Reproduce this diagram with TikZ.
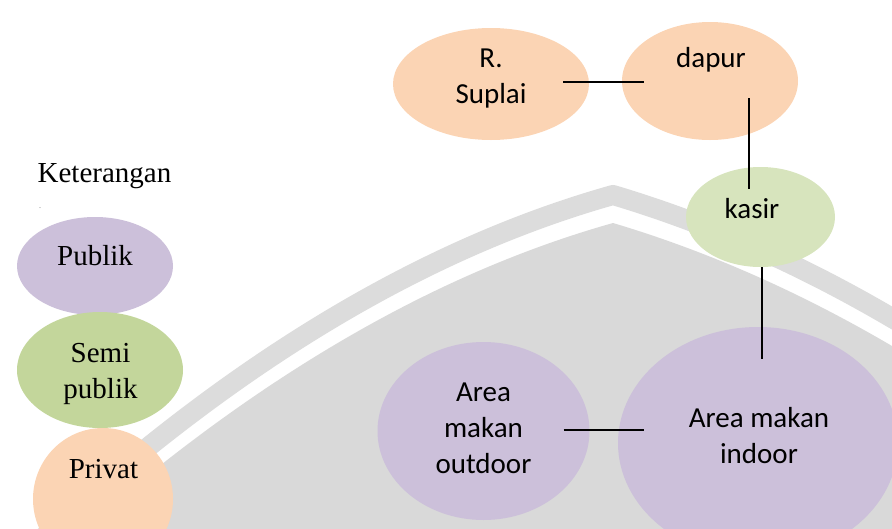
\documentclass[tikz,border=0pt]{standalone}
\usepackage{fontspec}
\setmainfont{Liberation Serif}
\newfontfamily\calibri{Carlito}
\usetikzlibrary{shapes.geometric,calc}
\definecolor{peach}{HTML}{FBD4B4}
\definecolor{lilac}{HTML}{CCC0DA}
\definecolor{sage}{HTML}{C3D69B}
\definecolor{palesage}{HTML}{D7E4BD}
\definecolor{logogrey}{HTML}{D9D9D9}
\definecolor{bandgrey}{HTML}{DCDCDC}
\begin{document}
\begin{tikzpicture}[x=1pt,y=-1pt,
  zone/.style={ellipse, inner sep=0pt, draw=none},
  lbl/.style={font=\calibri\fontsize{29}{36}\selectfont, align=center, anchor=base, inner sep=0pt},
  key/.style={font=\fontsize{29}{36}\selectfont, align=center, anchor=base, inner sep=0pt},
  link/.style={line width=2pt, black}]

\useasboundingbox (0,0) rectangle (892,528);

% grey emblem in the background
\begin{scope}
  \clip (0,0) rectangle (892,528);
  \fill[logogrey] (-10,620) -- (0,606.4) .. controls (204.3,408.3) and (408.7,280.5) .. (613,223)
    .. controls (707,251) and (800,292) .. (892,346) -- (920,362) -- (920,620) -- cycle;
  \draw[bandgrey, line width=20pt, line join=round] (-10,588) -- (0,578.4)
    .. controls (204.3,380.3) and (408.7,252.5) .. (613,195)
    .. controls (707,223) and (800,264) .. (892,318) -- (920,334);
\end{scope}

% zones
\node[zone, fill=peach, minimum width=196pt, minimum height=112pt] (sup) at (491,84) {};
\node[zone, fill=peach, minimum width=176pt, minimum height=118pt] (dap) at (710,81) {};
\node[zone, fill=palesage, minimum width=149pt, minimum height=100pt] (kas) at (760.5,217) {};
\node[zone, fill=lilac, minimum width=212pt, minimum height=178pt] (out) at (483.5,431) {};
\node[zone, fill=lilac, minimum width=280pt, minimum height=232pt] (ind) at (758,443) {};

% labels (base anchor sits on the last line)
\node[lbl] (supT) at (491,103) {R.\\Suplai};
\node[lbl] (dapT) at (711,67) {dapur};
\node[lbl] (kasT) at (752,218) {kasir};
\node[lbl] (outT) at (483.5,473) {Area\\makan\\outdoor};
\node[lbl] (indT) at (759,463) {Area makan\\indoor};

% connections
\draw[link] ($(sup.east)+(-26,-2)$) -- ($(dap.west)+(22,1)$);
\draw[link] ($(dap.center)+(38.5,17)$) -- ($(kas.north)+(-12,22)$);
\draw[link] ($(kas.south)+(1,0)$) -- ($(ind.north)+(3.5,32)$);
\draw[link] ($(out.east)+(-26,-1)$) -- ($(ind.west)+(26,-13)$);

% legend
\node[key] (keyT) at (104.5,182) {Keterangan};
\node[font=\fontsize{6}{7}\selectfont, inner sep=0pt, anchor=base] (dot) at (40,208) {.};
\node[zone, fill=lilac, minimum width=156pt, minimum height=98pt] (pub) at (95,266) {};
\node[zone, fill=sage, minimum width=166pt, minimum height=116pt] (semi) at (100,370) {};
\node[zone, fill=peach, minimum width=140pt, minimum height=142pt] (priv) at (103,499) {};
\node[key] (pubT) at (95,265) {Publik};
\node[key] (semiT) at (100.5,398) {Semi\\publik};
\node[key] (privT) at (103.5,478) {Privat};
\end{tikzpicture}
\end{document}
